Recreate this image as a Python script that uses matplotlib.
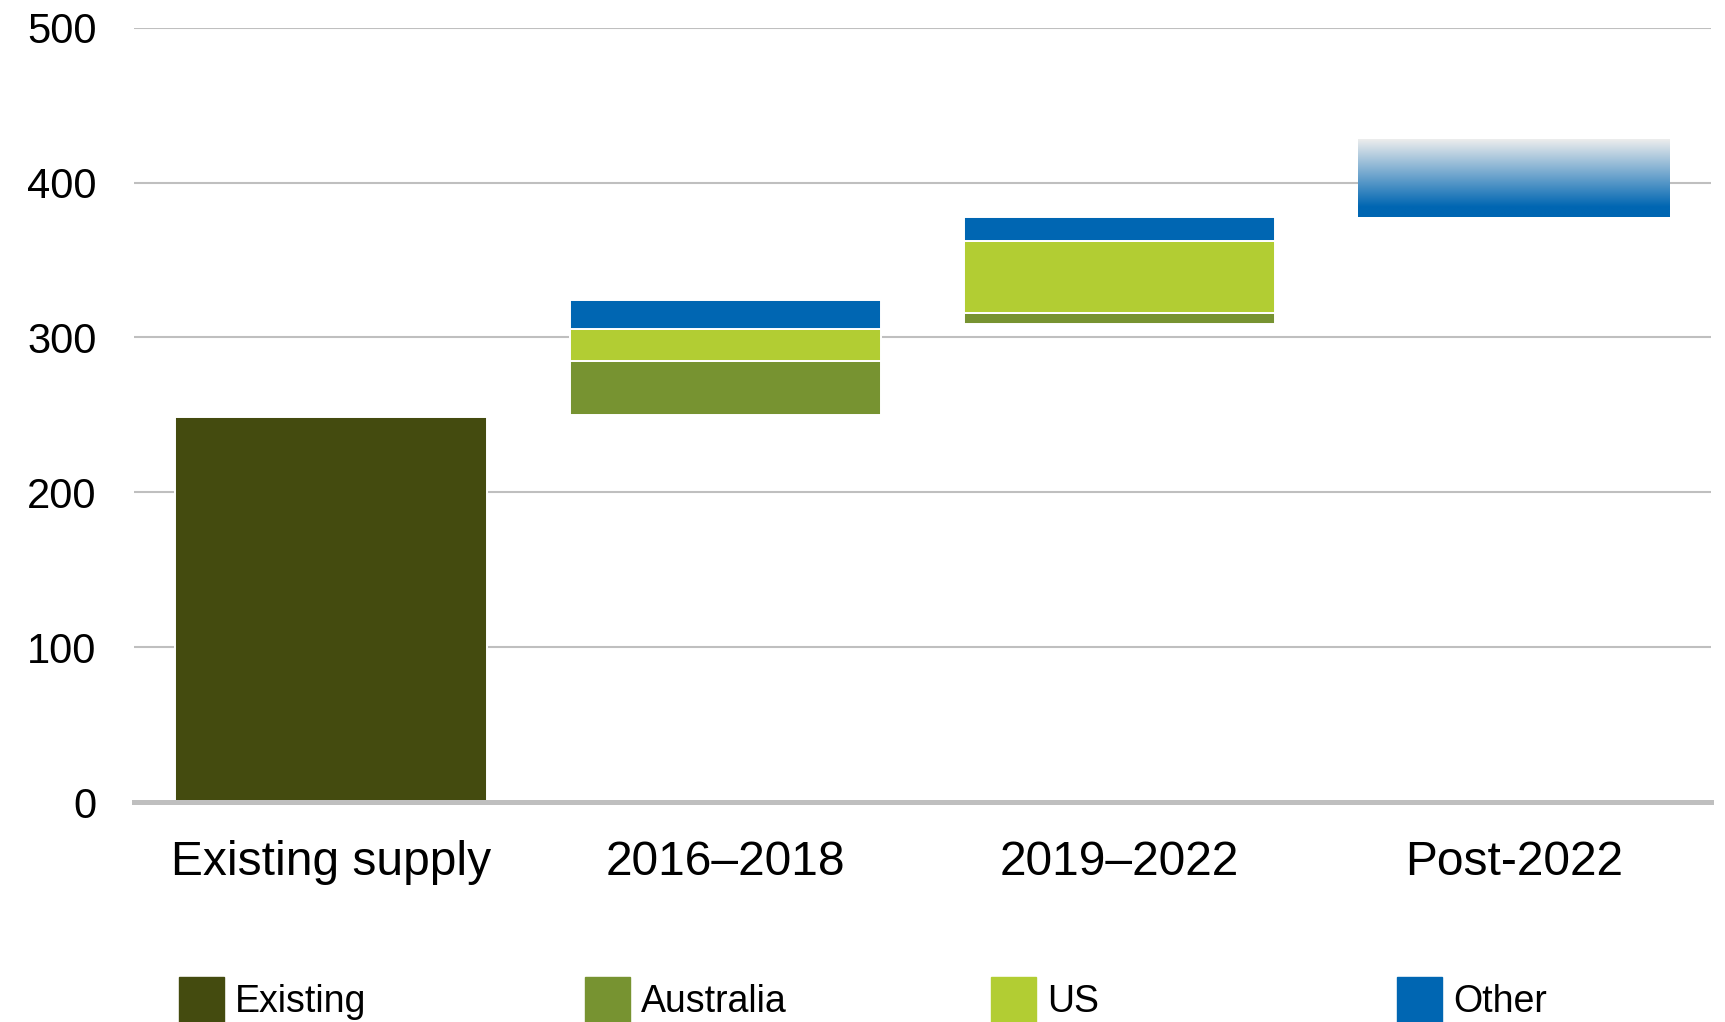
import numpy as np
import matplotlib
matplotlib.use("Agg")
import matplotlib.pyplot as plt
from matplotlib.patches import Rectangle
from matplotlib.colors import LinearSegmentedColormap

plt.rcParams['font.family'] = ['Liberation Sans', 'DejaVu Sans']

categories = ["Existing supply", "2016\u20132018", "2019\u20132022", "Post-2022"]
series_names = ["Existing", "Australia", "US", "Other"]
base = [0, 250, 309, 378]
existing = [248.5, 0, 0, 0]
australia = [0, 34.5, 7, 0]
us = [0, 21, 46, 0]
other = [0, 18.5, 16, 50]
yticks = [0, 100, 200, 300, 400, 500]

colors = {"Existing": "#444B0F", "Australia": "#779331", "US": "#B2CD33", "Other": "#0066B2"}

W, H = 1725, 1022
fig = plt.figure(figsize=(W / 100, H / 100), dpi=100)
ax = fig.add_axes([134 / W, 1 - 802 / H, (1711 - 134) / W, (802 - 27.8) / H])

x = np.arange(len(categories))
width = 0.79
bottom = np.array(base, dtype=float)
gradient_bars = []
for name, vals in zip(series_names, [existing, australia, us, other]):
    vals = np.array(vals, dtype=float)
    for i in range(len(x)):
        if vals[i] <= 0:
            continue
        if name == "Other" and i == 3:
            b = ax.bar(x[i], vals[i], width, bottom=bottom[i], color="none",
                       edgecolor="none", zorder=2)
            gradient_bars.append(b[0])
        else:
            ax.bar(x[i], vals[i], width, bottom=bottom[i], color=colors[name],
                   edgecolor="white", linewidth=1.4, zorder=2)
    bottom = bottom + vals

# gradient fill for Post-2022 bar
cmap = LinearSegmentedColormap.from_list(
    "g", [(0.0, "#0066B2"), (0.13, "#0066B2"), (1.0, "#EDEDED")])
grad = np.linspace(0, 1, 256).reshape(-1, 1)
for p in gradient_bars:
    x0, y0, w, h = p.get_x(), p.get_y(), p.get_width(), p.get_height()
    im = ax.imshow(grad, cmap=cmap, aspect="auto", origin="lower",
                   extent=[x0, x0 + w, y0, y0 + h], zorder=2, interpolation="bilinear")
    im.set_clip_path(p)

ax.set_xlim(-0.5, 3.5)
ax.set_ylim(0, 500)
ax.set_yticks(yticks)
ax.set_yticklabels([str(v) for v in yticks])
ax.set_xticks(x)
ax.set_xticklabels(categories)
ax.tick_params(axis="y", length=0, pad=27, labelsize=30)
ax.tick_params(axis="x", length=0, pad=27, labelsize=34.5)
for t in yticks[1:]:
    ax.axhline(t, color="#BFBFBF", linewidth=1.5, zorder=1)
ax.axhline(0, color="#BFBFBF", linewidth=3.6, zorder=3, clip_on=False)
for s in ax.spines.values():
    s.set_visible(False)

# legend
leg_x = [179, 585, 991, 1397]
for lx, name in zip(leg_x, series_names):
    fig.patches.append(Rectangle((lx / W, 0), 45 / W, (1022 - 976.7) / H,
                                 transform=fig.transFigure, color=colors[name]))
    fig.text((lx + 56) / W, 1 - 1011.7 / H, name, fontsize=27, va="baseline",
             ha="left")

fig.savefig("out.png", dpi=100)
